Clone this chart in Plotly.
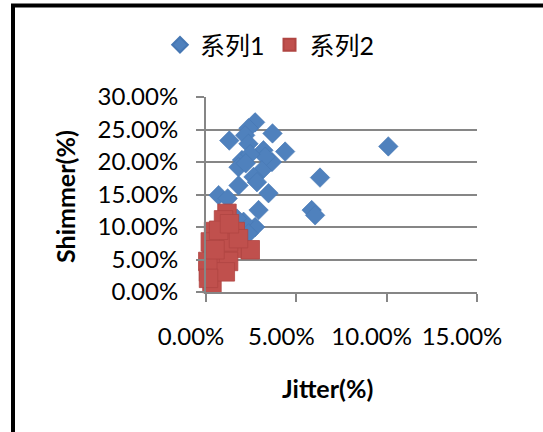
import plotly.graph_objects as go

# Series 1 (blue diamonds): Jitter, Shimmer as fractions
jitter1 = [0.0272, 0.0235, 0.0368, 0.0129, 0.0217, 0.0235, 0.0438, 0.0318, 0.1009,
           0.0199, 0.0365, 0.0328, 0.0180, 0.0309, 0.0263, 0.0282, 0.0180, 0.0346,
           0.0070, 0.0120, 0.0631, 0.0585, 0.0604, 0.0291, 0.0272, 0.0208, 0.0171,
           0.0235, 0.0245, 0.0220]
shimmer1 = [0.261, 0.252, 0.244, 0.233, 0.241, 0.228, 0.216, 0.218, 0.224,
            0.203, 0.200, 0.208, 0.192, 0.187, 0.177, 0.169, 0.164, 0.152,
            0.149, 0.144, 0.176, 0.126, 0.118, 0.126, 0.100, 0.108, 0.113,
            0.090, 0.212, 0.198]

# Series 2 (red squares)
jitter2 = [0.0116, 0.0097, 0.0042, 0.0162, 0.0245, 0.0144, 0.0033, 0.0079, 0.0014,
           0.0033, 0.0125, 0.0024, 0.0125, 0.0180, 0.0107, 0.0010, 0.0014, 0.0070,
           0.0130, 0.0050]
shimmer2 = [0.121, 0.111, 0.093, 0.093, 0.065, 0.067, 0.054, 0.047, 0.031,
            0.013, 0.047, 0.077, 0.077, 0.082, 0.031, 0.047, 0.021, 0.095,
            0.105, 0.065]

series_names = ["系列1", "系列2"]
x_ticks = [0, 0.05, 0.10, 0.15]
y_ticks = [0, 0.05, 0.10, 0.15, 0.20, 0.25, 0.30]

FONT = "Lato, 'Noto Sans CJK SC', sans-serif"
GRID = "#868686"

W, H = 543, 432
L, R, T, B = 206, 477, 97, 292  # plot-area edges in page px
PW, PH = R - L, B - T


def px_x(p):  # page px -> paper x
    return (p - L) / PW


def px_y(p):  # page px -> paper y
    return (B - p) / PH


fig = go.Figure()
fig.add_trace(go.Scatter(
    x=jitter1, y=shimmer1, mode="markers", name=series_names[0],
    marker=dict(symbol="diamond", size=15, color="#4F81BD",
                line=dict(width=0.6, color="#4677B3")),
    cliponaxis=False,
))
fig.add_trace(go.Scatter(
    x=jitter2, y=shimmer2, mode="markers", name=series_names[1],
    marker=dict(symbol="square", size=18.5, color="#C0504D",
                line=dict(width=0.8, color="#B04542")),
    cliponaxis=False,
))

fig.update_layout(
    width=W, height=H,
    margin=dict(l=L, r=W - R, t=T, b=H - B),
    paper_bgcolor="white", plot_bgcolor="white",
    font=dict(family=FONT, size=24, color="black"),
    showlegend=True,
    legend=dict(orientation="h", x=px_x(270), y=px_y(45), xanchor="center", yanchor="middle",
                font=dict(size=25), itemsizing="constant", itemwidth=30,
                tracegroupgap=0, bgcolor="rgba(0,0,0,0)"),
    xaxis=dict(range=[0, 0.15], tickvals=x_ticks, tickformat=".2%",
               showgrid=False, zeroline=False, showline=True, linecolor=GRID, linewidth=2,
               ticks="outside", ticklen=8, tickwidth=2, tickcolor=GRID,
               ticklabelstandoff=14, ticklabelshift=-15, tickfont=dict(size=24)),
    yaxis=dict(range=[0, 0.30], tickvals=y_ticks, tickformat=".2%",
               showgrid=True, gridcolor=GRID, gridwidth=2, zeroline=False,
               showline=True, linecolor=GRID, linewidth=2,
               ticks="outside", ticklen=8, tickwidth=2, tickcolor=GRID,
               ticklabelstandoff=13, tickfont=dict(size=24)),
    annotations=[
        dict(text="<b>Jitter(%)</b>", xref="paper", yref="paper",
             x=px_x(327), y=px_y(388),
             xanchor="center", yanchor="middle", showarrow=False,
             font=dict(size=25, family=FONT)),
        dict(text="<b>Shimmer(%)</b>", xref="paper", yref="paper",
             x=px_x(65), y=px_y(197), textangle=-90,
             xanchor="center", yanchor="middle", showarrow=False,
             font=dict(size=25, family=FONT)),
    ],
    shapes=[
        dict(type="rect", xref="paper", yref="paper",
             x0=px_x(13), x1=px_x(570),
             y0=px_y(460), y1=px_y(5.5),
             line=dict(color="black", width=4), fillcolor="rgba(0,0,0,0)", layer="below"),
    ],
)

fig.write_html(
    "out.html",
    config={"displayModeBar": False},
    post_script="document.body.style.margin='0';document.body.style.overflow='hidden';",
)
